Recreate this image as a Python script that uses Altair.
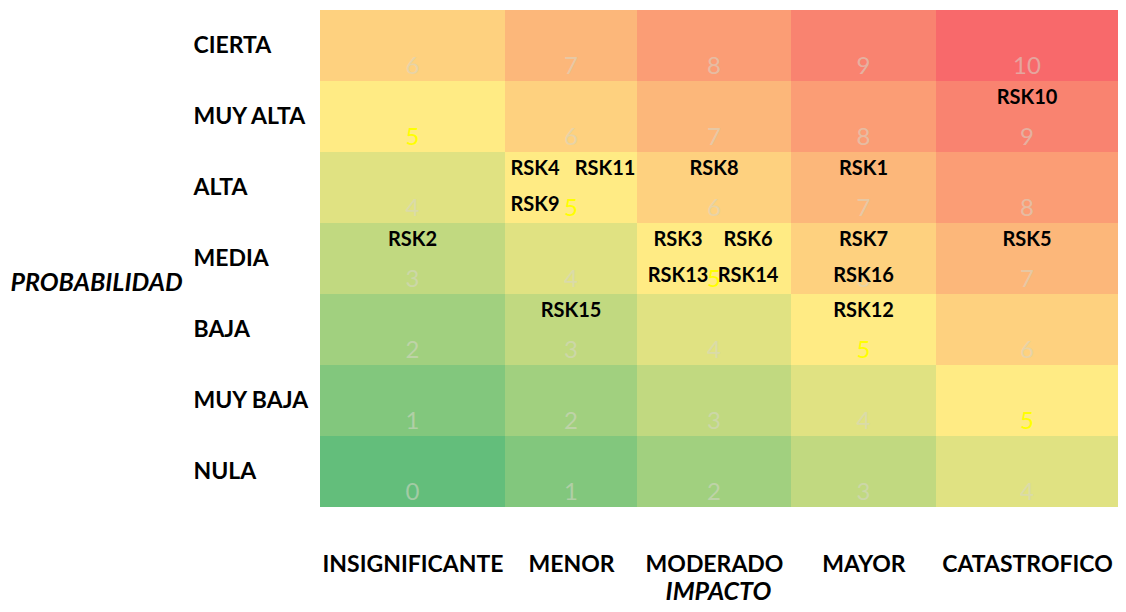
import altair as alt
import pandas as pd

# ---- data ----
impacts = ["INSIGNIFICANTE", "MENOR", "MODERADO", "MAYOR", "CATASTROFICO"]
probabilities = ["CIERTA", "MUY ALTA", "ALTA", "MEDIA", "BAJA", "MUY BAJA", "NULA"]  # top -> bottom
scores = [
    [6, 7, 8, 9, 10],
    [5, 6, 7, 8, 9],
    [4, 5, 6, 7, 8],
    [3, 4, 5, 6, 7],
    [2, 3, 4, 5, 6],
    [1, 2, 3, 4, 5],
    [0, 1, 2, 3, 4],
]

risk_ids = ["RSK1", "RSK2", "RSK3", "RSK4", "RSK5", "RSK6", "RSK7", "RSK8",
            "RSK9", "RSK10", "RSK11", "RSK12", "RSK13", "RSK14", "RSK15", "RSK16"]
risk_impact = ["MAYOR", "INSIGNIFICANTE", "MODERADO", "MENOR", "CATASTROFICO", "MODERADO",
               "MAYOR", "MODERADO", "MENOR", "CATASTROFICO", "MENOR", "MAYOR",
               "MODERADO", "MODERADO", "MENOR", "MAYOR"]
risk_prob = ["ALTA", "MEDIA", "MEDIA", "ALTA", "MEDIA", "MEDIA", "MEDIA", "ALTA",
             "ALTA", "MUY ALTA", "ALTA", "BAJA", "MEDIA", "MEDIA", "BAJA", "MEDIA"]
# arrangement slot of each label inside its cell
risk_hslot = ["center", "center", "left", "left", "center", "right", "center", "center",
              "left", "center", "right", "center", "left", "right", "center", "center"]
risk_vslot = ["upper", "upper", "upper", "upper", "upper", "upper", "upper", "upper",
              "lower", "upper", "upper", "upper", "lower", "lower", "upper", "lower"]

# ---- layout (relative column widths, as in the spreadsheet) ----
col_widths = [185, 132, 154, 145, 182]
edges = [0]
for w in col_widths:
    edges.append(edges[-1] + w)
centers = [(edges[i] + edges[i + 1]) / 2 for i in range(len(impacts))]
total_w = edges[-1]
PLOT_H = 497

cells = []
for r, p in enumerate(probabilities):
    for c, imp in enumerate(impacts):
        cells.append({"impact": imp, "prob": p, "score": scores[r][c],
                      "x0": edges[c], "x1": edges[c + 1], "xc": centers[c]})
cells_df = pd.DataFrame(cells)

risks_df = pd.DataFrame({
    "risk": risk_ids, "impact": risk_impact, "prob": risk_prob,
    "h": risk_hslot, "v": risk_vslot,
})
risks_df["xc"] = risks_df["impact"].map(dict(zip(impacts, centers)))

FONT = "Lato"
label_expr = "[" + ",".join("'%s'" % s for s in impacts) + "][indexof([" + \
    ",".join(repr(c) for c in centers) + "], datum.value)]"

x_scale = alt.Scale(domain=[0, total_w], nice=False, zero=False)
x_axis = alt.Axis(
    values=centers, labelExpr=label_expr, orient="bottom",
    ticks=False, tickSize=0, domain=False, grid=False, labelLimit=400,
    labelFont=FONT, labelFontSize=23, labelFontWeight="bold", labelColor="black",
    labelPadding=57, labelBaseline="middle", labelAlign="center",
    title="IMPACTO", titleFont=FONT, titleFontSize=25, titleFontWeight="bold",
    titleFontStyle="italic", titleColor="black", titleX=398, titleY=84,
    titleAlign="center", titleBaseline="middle",
)
y_scale = alt.Scale(domain=probabilities, paddingInner=0, paddingOuter=0)
y_axis = alt.Axis(
    ticks=False, tickSize=0, domain=False, grid=False, labelLimit=400,
    labelFont=FONT, labelFontSize=23, labelFontWeight="bold", labelColor="black",
    labelAlign="left", labelPadding=127, labelBaseline="middle",
    title="PROBABILIDAD", titleFont=FONT, titleFontSize=25, titleFontWeight="bold",
    titleFontStyle="italic", titleColor="black", titleAngle=0, titleX=-310, titleY=272,
    titleAlign="left", titleBaseline="middle", titleLimit=400,
)

color_scale = alt.Scale(domain=[0, 5, 10], range=["#63BE7B", "#FFEB84", "#F8696B"],
                        interpolate="rgb")

rects = alt.Chart(cells_df).mark_rect(strokeWidth=0).encode(
    x=alt.X("x0:Q", scale=x_scale, axis=x_axis),
    x2="x1:Q",
    y=alt.Y("prob:N", scale=y_scale, axis=y_axis, sort=probabilities),
    color=alt.Color("score:Q", scale=color_scale, legend=None),
)

nums = alt.Chart(cells_df).mark_text(font=FONT, fontSize=24, dy=21, baseline="middle").encode(
    x=alt.X("xc:Q", scale=x_scale, axis=x_axis),
    y=alt.Y("prob:N", scale=y_scale, axis=y_axis, sort=probabilities),
    text="score:Q",
    color=alt.condition(alt.datum.score == 5, alt.value("#FFFF00"), alt.value("#D6D6C8")),
    opacity=alt.condition(alt.datum.score == 5, alt.value(1.0), alt.value(0.55)),
)

hoff = {"left": -36, "center": 0, "right": 34}
voff = {"upper": -19, "lower": 17}
risk_layers = []
for h, dx in hoff.items():
    for v, dy in voff.items():
        risk_layers.append(
            alt.Chart(risks_df).transform_filter(
                (alt.datum.h == h) & (alt.datum.v == v)
            ).mark_text(font=FONT, fontSize=20, fontWeight="bold", color="black",
                        dx=dx, dy=dy, baseline="middle").encode(
                x=alt.X("xc:Q", scale=x_scale, axis=x_axis),
                y=alt.Y("prob:N", scale=y_scale, axis=y_axis, sort=probabilities),
                text="risk:N",
            )
        )

chart = alt.layer(rects, nums, *risk_layers).properties(
    width=total_w, height=PLOT_H,
    padding={"left": 2, "top": 2, "right": 0, "bottom": 0},
    background="white",
).configure_view(stroke=None)

chart.save("out.html", embed_options={"renderer": "svg", "actions": False})
